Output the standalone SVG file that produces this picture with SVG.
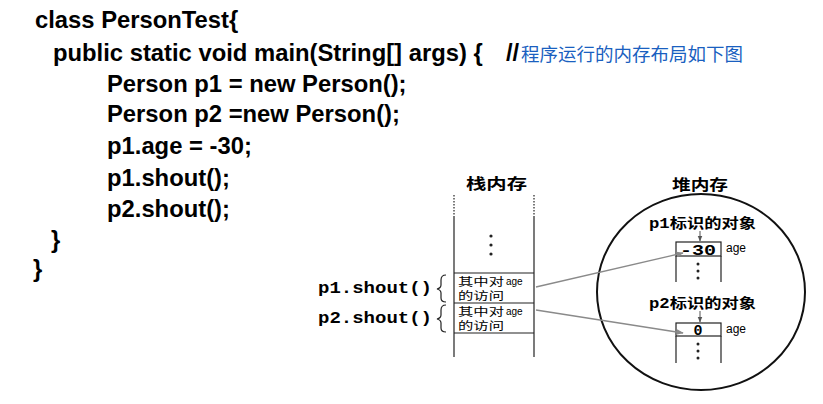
<svg xmlns="http://www.w3.org/2000/svg" width="823" height="404" viewBox="0 0 823 404">
<style>
.code{font-family:"Liberation Sans",Arial,sans-serif;font-weight:bold;font-size:23.8px;fill:#000}
.cmt{font-family:"Noto Sans CJK SC","Liberation Sans",sans-serif;font-size:18px;fill:#1a5fc0}
.ttl{font-family:"Noto Sans CJK SC",sans-serif;font-weight:bold;font-size:15px;fill:#000}
.mono{font-family:"Liberation Mono","Noto Sans CJK SC",monospace;font-weight:bold;fill:#000}
.cell{font-family:"Noto Sans CJK SC",sans-serif;font-size:11.5px;fill:#000}
.sm{font-family:"Liberation Sans",Arial,sans-serif;font-size:10px;fill:#000}
.lbl{font-family:"Liberation Sans",Arial,sans-serif;font-size:12px;fill:#000}
.ln{stroke:#222;stroke-width:1.2;fill:none}
.conn{stroke:#8a8a8a;stroke-width:1.3;fill:none}
</style>
<defs>
<marker id="ah" viewBox="0 0 10 10" refX="9" refY="5" markerWidth="7" markerHeight="7" orient="auto" markerUnits="userSpaceOnUse">
<path d="M0,1 L10,5 L0,9 Z" fill="#8a8a8a"/>
</marker>
<marker id="ahs" viewBox="0 0 10 10" refX="9" refY="5" markerWidth="6" markerHeight="6" orient="auto" markerUnits="userSpaceOnUse">
<path d="M0,1 L10,5 L0,9 Z" fill="#555"/>
</marker>
</defs>
<rect width="823" height="404" fill="#fff"/>
<g id="code">
<text class="code" x="35" y="28">class PersonTest{</text>
<text class="code" x="53" y="61">public static void main(String[] args) {</text>
<text class="code" x="506" y="61">//</text>
<text class="cmt" x="521" y="61" textLength="222" lengthAdjust="spacingAndGlyphs">程序运行的内存布局如下图</text>
<text class="code" x="107" y="92">Person p1 = new Person();</text>
<text class="code" x="107" y="122">Person p2 =new Person();</text>
<text class="code" x="107" y="154">p1.age = -30;</text>
<text class="code" x="107" y="186">p1.shout();</text>
<text class="code" x="107" y="217">p2.shout();</text>
<text class="code" x="51" y="248">}</text>
<text class="code" x="33" y="277">}</text>
</g>
<g id="stack">
<text class="ttl" x="466" y="189" textLength="61" lengthAdjust="spacingAndGlyphs">栈内存</text>
<line class="ln" x1="454" y1="195" x2="454" y2="217" stroke-dasharray="1.5,1.5"/>
<line class="ln" x1="534" y1="195" x2="534" y2="217" stroke-dasharray="1.5,1.5"/>
<line class="ln" x1="454" y1="217" x2="454" y2="357"/>
<line class="ln" x1="534" y1="217" x2="534" y2="357"/>
<circle cx="491" cy="236" r="1.6" fill="#222"/>
<circle cx="491" cy="245" r="1.6" fill="#222"/>
<circle cx="491" cy="254" r="1.6" fill="#222"/>
<line class="ln" x1="454" y1="273" x2="534" y2="273"/>
<line class="ln" x1="454" y1="303" x2="534" y2="303"/>
<line class="ln" x1="454" y1="333" x2="534" y2="333"/>
</g>
<g id="frame1">
<text class="mono" x="318" y="293" font-size="16" textLength="114" lengthAdjust="spacingAndGlyphs">p1.shout()</text>
<path class="ln" d="M446,275 Q441,275 441,280 L441,285 Q441,288 437,289 Q441,290 441,293 L441,298 Q441,302 446,302"/>
<text class="cell"><tspan x="458" y="286" textLength="46" lengthAdjust="spacingAndGlyphs">其中对</tspan><tspan class="sm" x="506" y="285">age</tspan><tspan x="458" y="299.5" textLength="46" lengthAdjust="spacingAndGlyphs">的访问</tspan></text>
</g>
<g id="frame2">
<text class="mono" x="318" y="323" font-size="16" textLength="114" lengthAdjust="spacingAndGlyphs">p2.shout()</text>
<path class="ln" d="M446,305 Q441,305 441,310 L441,315 Q441,318 437,319 Q441,320 441,323 L441,328 Q441,332 446,332"/>
<text class="cell"><tspan x="458" y="316" textLength="46" lengthAdjust="spacingAndGlyphs">其中对</tspan><tspan class="sm" x="506" y="315">age</tspan><tspan x="458" y="329.5" textLength="46" lengthAdjust="spacingAndGlyphs">的访问</tspan></text>
</g>
<g id="heap">
<text class="ttl" x="672" y="190" textLength="56" lengthAdjust="spacingAndGlyphs">堆内存</text>
<ellipse cx="701" cy="292" rx="104" ry="98" fill="none" stroke="#111" stroke-width="2"/>
</g>
<g id="obj1">
<text class="mono" x="649" y="228" font-size="14" textLength="107" lengthAdjust="spacingAndGlyphs">p1标识的对象</text>
<line x1="700" y1="231" x2="700" y2="241" stroke="#555" stroke-width="1" marker-end="url(#ahs)"/>
<rect class="ln" x="676" y="242" width="45" height="14"/>
<line class="ln" x1="676" y1="256" x2="676" y2="282"/>
<line class="ln" x1="721" y1="256" x2="721" y2="282"/>
<text class="mono" x="698" y="255" font-size="15" text-anchor="middle" textLength="36" lengthAdjust="spacingAndGlyphs">-30</text>
<text class="lbl" x="726" y="252">age</text>
<circle cx="698" cy="264" r="1.5" fill="#222"/>
<circle cx="698" cy="271" r="1.5" fill="#222"/>
<circle cx="698" cy="278" r="1.5" fill="#222"/>
</g>
<g id="obj2">
<text class="mono" x="649" y="308" font-size="14" textLength="107" lengthAdjust="spacingAndGlyphs">p2标识的对象</text>
<line x1="700" y1="311" x2="700" y2="322" stroke="#555" stroke-width="1" marker-end="url(#ahs)"/>
<rect class="ln" x="676" y="323" width="45" height="13"/>
<line class="ln" x1="676" y1="336" x2="676" y2="363"/>
<line class="ln" x1="721" y1="336" x2="721" y2="363"/>
<text class="mono" x="698" y="335" font-size="15" text-anchor="middle">0</text>
<text class="lbl" x="726" y="333">age</text>
<circle cx="698" cy="344" r="1.5" fill="#222"/>
<circle cx="698" cy="351" r="1.5" fill="#222"/>
<circle cx="698" cy="358" r="1.5" fill="#222"/>
</g>
<g id="connectors">
<line class="conn" x1="536" y1="287" x2="683" y2="253" marker-end="url(#ah)"/>
<line class="conn" x1="536" y1="310" x2="683" y2="333" marker-end="url(#ah)"/>
</g>
</svg>
